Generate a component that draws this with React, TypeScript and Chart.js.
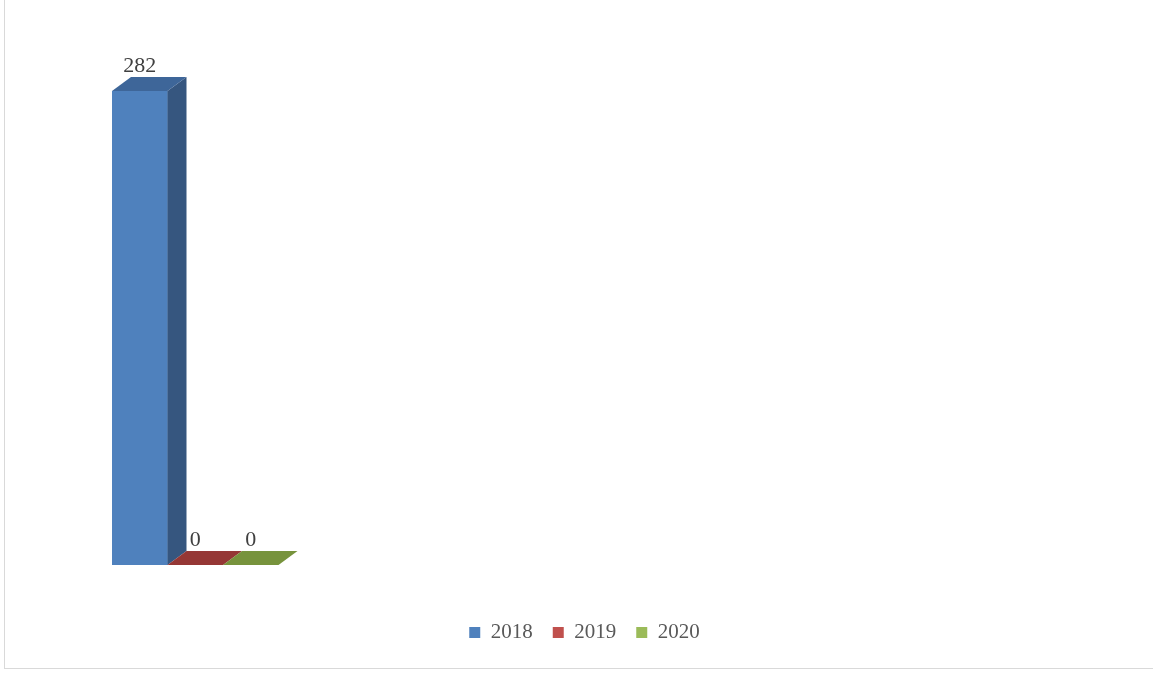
import React, { useEffect, useRef } from "react";
import { Chart, registerables } from "chart.js";

Chart.register(...registerables);

const categories = [""];
const seriesNames = ["2018", "2019", "2020"];
const values2018 = [282];
const values2019 = [0];
const values2020 = [0];

const frontColors = ["#4F81BD", "#C0504D", "#9BBB59"];
const topColors = ["#3E6699", "#953735", "#77933C"];
const sideColors = ["#36567F", "#8B3331", "#6E8937"];

const DX = 19;
const DY = 14;
const FONT = "'Liberation Serif', 'DejaVu Serif', serif";

const bar3d = {
  id: "bar3d",
  afterDatasetsDraw(chart: any) {
    const ctx = chart.ctx;
    chart.data.datasets.forEach((ds: any, i: number) => {
      const meta = chart.getDatasetMeta(i);
      meta.data.forEach((el: any, j: number) => {
        const { x, y, base, width } = el.getProps(["x", "y", "base", "width"], true);
        const l = x - width / 2;
        const r = x + width / 2;
        ctx.save();
        if (base - y > 0.5) {
          ctx.fillStyle = sideColors[i];
          ctx.beginPath();
          ctx.moveTo(r, y);
          ctx.lineTo(r + DX, y - DY);
          ctx.lineTo(r + DX, base - DY);
          ctx.lineTo(r, base);
          ctx.closePath();
          ctx.fill();
        }
        ctx.fillStyle = topColors[i];
        ctx.beginPath();
        ctx.moveTo(l, y);
        ctx.lineTo(l + DX, y - DY);
        ctx.lineTo(r + DX, y - DY);
        ctx.lineTo(r, y);
        ctx.closePath();
        ctx.fill();
        ctx.fillStyle = "#404040";
        ctx.font = "22px " + FONT;
        ctx.textAlign = "center";
        ctx.textBaseline = "alphabetic";
        ctx.fillText(String(ds.data[j]), x, y - DY - 5);
        ctx.restore();
      });
    });
  },
};

export default function App() {
  const ref = useRef<HTMLCanvasElement | null>(null);
  useEffect(() => {
    if (!ref.current) return;
    const chart = new Chart(ref.current, {
      type: "bar",
      data: {
        labels: categories,
        datasets: [
          { label: seriesNames[0], data: values2018, backgroundColor: frontColors[0] },
          { label: seriesNames[1], data: values2019, backgroundColor: frontColors[1] },
          { label: seriesNames[2], data: values2020, backgroundColor: frontColors[2] },
        ],
      },
      options: {
        responsive: false,
        animation: false,
        devicePixelRatio: 1,
        datasets: { bar: { categoryPercentage: 1, barPercentage: 1, borderWidth: 0 } },
        layout: { padding: { top: 91, bottom: 20, left: 16, right: 0 } },
        scales: {
          x: {
            display: true,
            ticks: { display: false },
            grid: { display: false },
            border: { display: false },
            afterFit: (s: any) => {
              s.height = 37;
            },
          },
          y: {
            min: 0,
            max: 282,
            display: true,
            ticks: { display: false },
            grid: { display: false },
            border: { display: false },
            afterFit: (s: any) => {
              s.width = 96;
            },
          },
          y2: {
            position: "right",
            display: true,
            ticks: { display: false },
            grid: { display: false },
            border: { display: false },
            afterFit: (s: any) => {
              s.width = 874.5;
            },
          },
        },
        plugins: {
          tooltip: { enabled: false },
          legend: {
            position: "bottom",
            labels: {
              boxWidth: 11,
              boxHeight: 11,
              padding: 20,
              color: "#595959",
              font: { size: 21, family: FONT },
            },
          },
        },
      },
      plugins: [bar3d],
    } as any);
    return () => chart.destroy();
  }, []);

  return (
    <div style={{ position: "fixed", left: 0, top: 0, width: 1153, height: 673, overflow: "hidden", background: "#fff" }}>
      <div
        style={{
          position: "absolute",
          left: 4,
          top: -2,
          width: 1160,
          height: 671,
          boxSizing: "border-box",
          border: "1px solid #D9D9D9",
        }}
      />
      <canvas ref={ref} width={1153} height={673} style={{ position: "absolute", left: 0, top: 0 }} />
    </div>
  );
}
